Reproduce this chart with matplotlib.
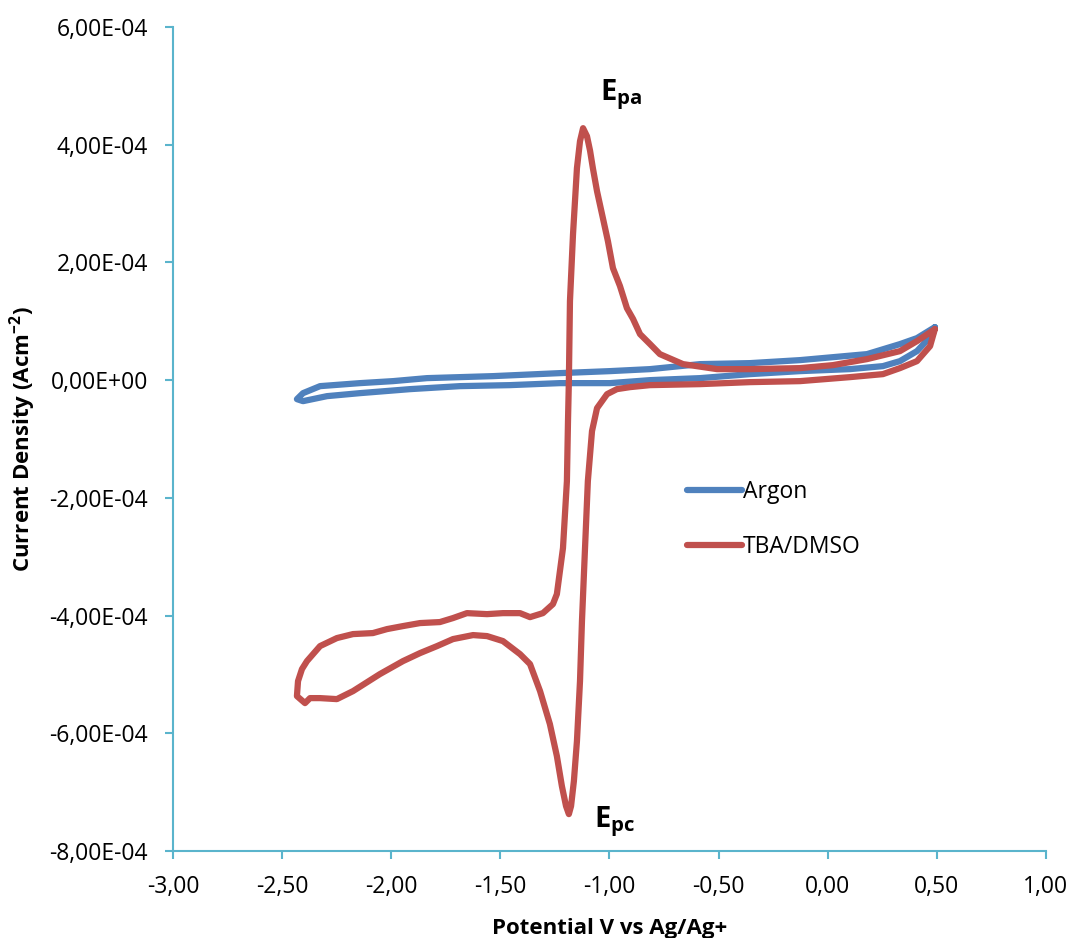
import numpy as np
import matplotlib.pyplot as plt
from matplotlib.ticker import FuncFormatter, MultipleLocator

# potential (V vs Ag/Ag+) and current density (x1e-4 A/cm2)
argon_v = [0.491, 0.482, 0.409, 0.331, 0.253, 0.102, -0.127, -0.356, -0.585, -0.814,
           -0.998, -1.227, -1.456, -1.685, -1.914, -2.143, -2.294, -2.404, -2.432,
           -2.404, -2.326, -2.143, -1.992, -1.836, -1.534, -1.227, -0.998, -0.814,
           -0.585, -0.356, -0.127, 0.180, 0.331, 0.409, 0.491]
argon_i = [0.900, 0.782, 0.493, 0.323, 0.238, 0.187, 0.153, 0.102, 0.034, 0.000,
           -0.051, -0.051, -0.085, -0.102, -0.153, -0.221, -0.272, -0.357, -0.323,
           -0.221, -0.102, -0.051, -0.017, 0.034, 0.068, 0.119, 0.153, 0.187,
           0.272, 0.289, 0.340, 0.442, 0.612, 0.714, 0.900]

tba_v = [0.491, 0.469, 0.409, 0.331, 0.253, 0.102, -0.127, -0.356, -0.585, -0.814,
         -0.906, -0.966, -1.011, -1.057, -1.080, -1.099, -1.112, -1.126, -1.135,
         -1.149, -1.163, -1.176, -1.186, -1.199, -1.218, -1.241, -1.273, -1.318,
         -1.364, -1.410, -1.488, -1.561, -1.625, -1.717, -1.790, -1.868, -1.946,
         -2.052, -2.175, -2.249, -2.326, -2.372, -2.395, -2.432,
         -2.427, -2.409, -2.386, -2.326, -2.249, -2.175, -2.084, -2.019, -1.946,
         -1.868, -1.777, -1.717, -1.653, -1.561, -1.488, -1.410, -1.364, -1.305,
         -1.259, -1.241, -1.213, -1.195, -1.190, -1.186, -1.181, -1.167, -1.149,
         -1.135, -1.121, -1.103, -1.089, -1.076, -1.057, -1.030, -1.007, -0.984,
         -0.952, -0.920, -0.892, -0.860, -0.814, -0.769, -0.663, -0.507, -0.356,
         -0.127, 0.024, 0.180, 0.331, 0.409, 0.491]
tba_i = [0.866, 0.578, 0.323, 0.204, 0.102, 0.051, -0.017, -0.034, -0.068, -0.085,
         -0.119, -0.153, -0.238, -0.476, -0.866, -1.716, -2.854, -4.094, -5.114,
         -6.133, -6.813, -7.238, -7.374, -7.238, -6.898, -6.388, -5.844, -5.284,
         -4.825, -4.655, -4.434, -4.349, -4.332, -4.400, -4.519, -4.638, -4.774,
         -4.995, -5.284, -5.420, -5.403, -5.403, -5.488, -5.369,
         -5.114, -4.910, -4.774, -4.519, -4.383, -4.315, -4.298, -4.230, -4.179,
         -4.128, -4.111, -4.043, -3.959, -3.976, -3.959, -3.959, -4.027, -3.959,
         -3.806, -3.636, -2.854, -1.716, -0.697, -0.017, 1.342, 2.480, 3.602,
         4.060, 4.281, 4.145, 3.900, 3.602, 3.210, 2.752, 2.360, 1.903,
         1.600, 1.223, 1.040, 0.782, 0.612, 0.442, 0.272, 0.187, 0.187,
         0.204, 0.255, 0.357, 0.493, 0.663, 0.866]

plt.rcParams['font.family'] = ['Open Sans', 'DejaVu Sans']
plt.rcParams['mathtext.fontset'] = 'custom'
plt.rcParams['mathtext.rm'] = 'Open Sans'
plt.rcParams['mathtext.bf'] = 'Open Sans:bold'

axis_col = '#5AB4CC'
blue = '#4F81BD'
red = '#C0504D'

fig = plt.figure(figsize=(10.73, 9.38), dpi=100)
ax = fig.add_axes([0.1612, 0.0928, 0.8136, 0.8784])

ax.plot(argon_v, np.array(argon_i) * 1e-4, color=blue, lw=4.5,
        solid_joinstyle='round', solid_capstyle='round', label='Argon')
ax.plot(tba_v, np.array(tba_i) * 1e-4, color=red, lw=4.5,
        solid_joinstyle='round', solid_capstyle='round', label='TBA/DMSO')

ax.set_xlim(-3, 1)
ax.set_ylim(-8e-4, 6e-4)
ax.xaxis.set_major_locator(MultipleLocator(0.5))
ax.yaxis.set_major_locator(MultipleLocator(2e-4))
ax.xaxis.set_major_formatter(FuncFormatter(lambda v, p: f"{round(v, 2) + 0.0:.2f}".replace('.', ',')))
ax.yaxis.set_major_formatter(FuncFormatter(lambda v, p: f"{round(v, 6) + 0.0:.2E}".replace('.', ',')))

for s in ['top', 'right']:
    ax.spines[s].set_visible(False)
for s in ['left', 'bottom']:
    ax.spines[s].set_color(axis_col)
    ax.spines[s].set_linewidth(1.5)
ax.tick_params(direction='out', length=6, width=1.5, color=axis_col,
               labelsize=16.5)
ax.tick_params(axis='y', pad=12)
ax.tick_params(axis='x', pad=11)

ax.set_xlabel('Potential V vs Ag/Ag+', fontsize=16, fontweight='bold', labelpad=14)
ax.set_ylabel(r'Current Density (Acm$^{\mathbf{-2}}$)', fontsize=16,
              fontweight='bold', labelpad=8)

# peak labels
ax.text(-0.947, 4.85e-4, r'$\mathbf{E_{pa}}$', fontsize=21, ha='center', va='center')
ax.text(-0.975, -7.5e-4, r'$\mathbf{E_{pc}}$', fontsize=21, ha='center', va='center')

ax.legend(loc='upper left', bbox_to_anchor=(0.565, 0.475), frameon=False,
          fontsize=16.5, handlelength=2.4, handletextpad=0.05, labelspacing=1.35)

fig.savefig('out.png', dpi=100)
